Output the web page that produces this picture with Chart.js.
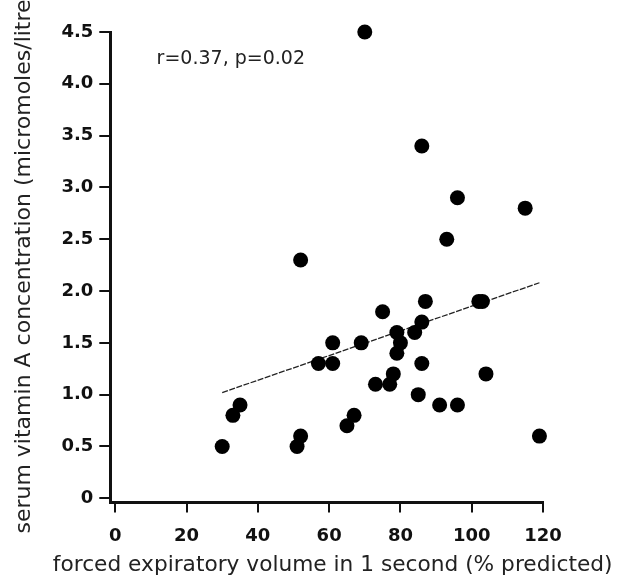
<!DOCTYPE html>
<html>
<head>
<meta charset="utf-8">
<script src="https://cdn.jsdelivr.net/npm/chart.js@4.4.1/dist/chart.umd.min.js"></script>
<style>
  html, body { margin: 0; padding: 0; background: #fff; }
  #wrap { position: relative; width: 617px; height: 578px; }
</style>
</head>
<body>
<div id="wrap"><canvas id="scatterChart"></canvas></div>
<script>
// FEV1 (% predicted) vs serum vitamin A
const fev1 = [70, 86, 96, 115, 93, 52, 87, 102, 103, 75, 86, 84, 79, 80, 79, 61, 69, 57, 61, 86,
              78, 77, 73, 104, 85, 91, 96, 67, 65, 119, 35, 33, 30, 52, 51];
const vitA = [4.5, 3.4, 2.9, 2.8, 2.5, 2.3, 1.9, 1.9, 1.9, 1.8, 1.7, 1.6, 1.6, 1.5, 1.4, 1.5, 1.5, 1.3, 1.3, 1.3,
              1.2, 1.1, 1.1, 1.2, 1.0, 0.9, 0.9, 0.8, 0.7, 0.6, 0.9, 0.8, 0.5, 0.6, 0.5];

// regression line end points
const fitX = [30, 119];
const fitY = [1.02, 2.08];

const xTicks = [0, 20, 40, 60, 80, 100, 120];
const yTicks = [0, 0.5, 1.0, 1.5, 2.0, 2.5, 3.0, 3.5, 4.0, 4.5];
const yTickLabels = ['0', '0.5', '1.0', '1.5', '2.0', '2.5', '3.0', '3.5', '4.0', '4.5'];

const statText = 'r=0.37, p=0.02';
const xTitle = 'forced expiratory volume in 1 second (% predicted)';
const yTitle = 'serum vitamin A concentration (micromoles/litre)';

const FONT = 'DejaVu Sans';
const INK = '#111';

// correlation text + axis titles (longer than the axes, so drawn by hand)
const extraText = {
    id: 'extraText',
    afterDraw(chart) {
        const { ctx, scales, chartArea } = chart;
        ctx.save();
        ctx.fillStyle = '#222';
        ctx.textBaseline = 'middle';
        ctx.font = `19px "${FONT}"`;
        ctx.textAlign = 'left';
        ctx.fillText(statText, scales.x.getPixelForValue(11.6), scales.y.getPixelForValue(4.24));

        ctx.font = `21.7px "${FONT}"`;
        ctx.textAlign = 'center';
        ctx.fillText(xTitle, (chartArea.left + chartArea.right) / 2 + 6, chart.height - 13);

        ctx.font = `22px "${FONT}"`;
        ctx.translate(24, (chartArea.top + chartArea.bottom) / 2 - 5);
        ctx.rotate(-Math.PI / 2);
        ctx.fillText(yTitle, 0, 0);
        ctx.restore();
    }
};

const ctx = document.getElementById('scatterChart').getContext('2d');
new Chart(ctx, {
    type: 'scatter',
    data: {
        datasets: [{
            data: fev1.map((x, i) => ({ x: x, y: vitA[i] })),
            backgroundColor: '#000', borderWidth: 0, pointRadius: 7.5, pointHoverRadius: 7.5,
            clip: false
        }, {
            type: 'line',
            data: fitX.map((x, i) => ({ x: x, y: fitY[i] })),
            borderColor: '#222', borderWidth: 1.3, pointRadius: 0, fill: false, borderDash: [6, 1.5]
        }]
    },
    plugins: [extraText],
    options: {
        responsive: true, maintainAspectRatio: false, animation: false,
        layout: { padding: { top: 32, right: 74, left: 0, bottom: 18 } },
        plugins: { legend: { display: false }, tooltip: { enabled: false } },
        scales: {
            x: {
                type: 'linear', min: -1.4, max: 120,
                afterBuildTicks: axis => { axis.ticks = xTicks.map(v => ({ value: v })); },
                ticks: { font: { family: FONT, size: 18, weight: 'bold' }, color: INK, padding: 13, maxRotation: 0, autoSkip: false },
                grid: { drawOnChartArea: false, drawTicks: true, tickLength: 10, color: INK, lineWidth: 2 },
                border: { display: true, color: INK, width: 3 }
            },
            y: {
                type: 'linear', min: -0.04, max: 4.5,
                afterBuildTicks: axis => { axis.ticks = yTicks.map(v => ({ value: v })); },
                ticks: {
                    font: { family: FONT, size: 18, weight: 'bold' }, color: INK, padding: 6, autoSkip: false,
                    callback: v => yTickLabels[yTicks.indexOf(v)]
                },
                grid: { drawOnChartArea: false, drawTicks: true, tickLength: 11, color: INK, lineWidth: 2 },
                border: { display: true, color: INK, width: 3 },
                // space only; the text itself is drawn by extraText
                title: { display: true, text: yTitle, font: { family: FONT, size: 22 }, color: 'rgba(0,0,0,0)', padding: { top: 11, bottom: 18 } }
            }
        }
    }
});
</script>
</body>
</html>
